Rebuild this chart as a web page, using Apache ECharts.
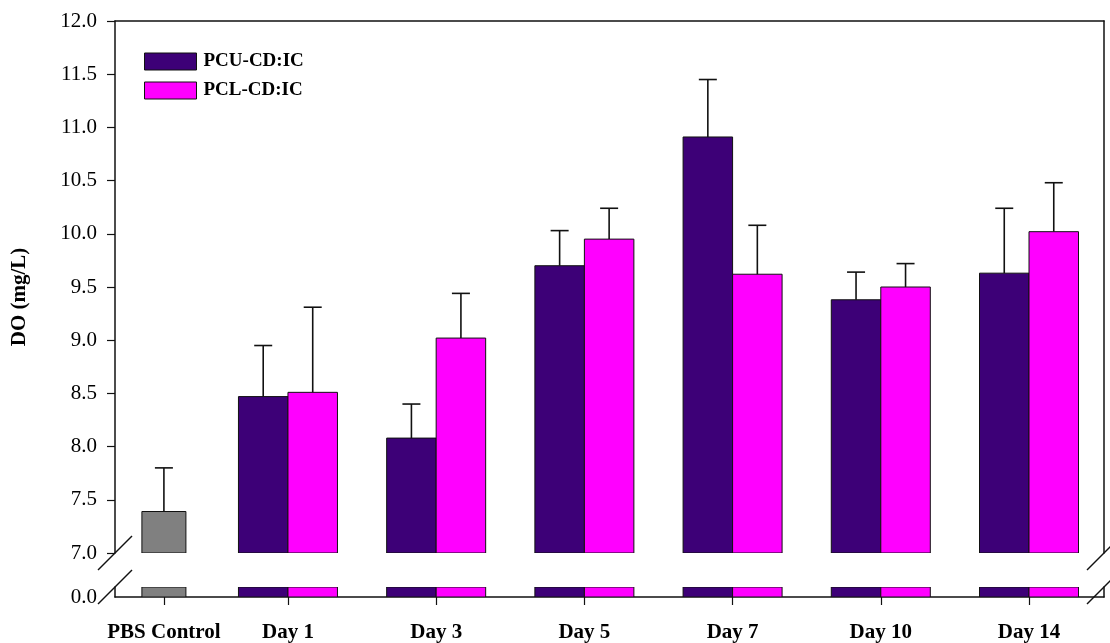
<!DOCTYPE html>
<html>
<head>
<meta charset="utf-8">
<script src="https://cdn.jsdelivr.net/npm/echarts@6/dist/echarts.min.js"></script>
<style>html,body{margin:0;padding:0;background:#fff}#c{width:1110px;height:643px}</style>
</head>
<body>
<div id="c"></div>
<script>
// ---- data ----
const categories = ['PBS Control', 'Day 1', 'Day 3', 'Day 5', 'Day 7', 'Day 10', 'Day 14'];
const pcuValues = [8.47, 8.08, 9.70, 10.91, 9.38, 9.63];
const pcuErrors = [0.48, 0.32, 0.33, 0.54, 0.26, 0.61];
const pclValues = [8.51, 9.02, 9.95, 9.62, 9.50, 10.02];
const pclErrors = [0.80, 0.42, 0.29, 0.46, 0.22, 0.46];
const pbsValues = [7.39];
const pbsErrors = [0.41];
const yTickLabels = ['7.0', '7.5', '8.0', '8.5', '9.0', '9.5', '10.0', '10.5', '11.0', '11.5', '12.0'];

// ---- layout ----
const X_MIN = -0.167, X_MAX = 6.506;
const PBS_POS = 0.163;
const BAR_W = 0.334, PBS_W = 0.297;
const TOP_MIN = 7, TOP_MAX = 12, BOT_MIN = 0, BOT_MAX = 1;
const FONT = "'Liberation Serif','Times New Roman',serif";
const COLORS = { pcu: '#3d0077', pcl: '#ff00ff', pbs: '#808080' };

const tickPositions = categories.map((c, i) => i === 0 ? PBS_POS : i);

function labelFor(v) {
  let best = 0, d = Infinity;
  tickPositions.forEach((p, i) => { const dd = Math.abs(p - v); if (dd < d) { d = dd; best = i; } });
  return d < 1e-6 ? categories[best] : '';
}

function makeRender(widthUnits, color, base, clampMax, withErr) {
  return function (params, api) {
    const x = api.value(0), v = api.value(1), e = api.value(2);
    const top = api.coord([x, Math.min(v, clampMax)]);
    const bot = api.coord([x, base]);
    const bw = api.size([widthUnits, 0])[0];
    const children = [{
      type: 'rect',
      shape: { x: top[0] - bw / 2, y: top[1], width: bw, height: bot[1] - top[1] },
      style: { fill: color, stroke: '#111', lineWidth: 1 }
    }];
    if (withErr) {
      const et = api.coord([x, v + e]);
      children.push({ type: 'line', shape: { x1: top[0], y1: top[1], x2: top[0], y2: et[1] }, style: { stroke: '#111', lineWidth: 1.6 } });
      children.push({ type: 'line', shape: { x1: top[0] - 9, y1: et[1], x2: top[0] + 9, y2: et[1] }, style: { stroke: '#111', lineWidth: 1.6 } });
    }
    return { type: 'group', children };
  };
}

const pcuData = pcuValues.map((v, i) => [i + 1 - BAR_W / 2, v, pcuErrors[i]]);
const pclData = pclValues.map((v, i) => [i + 1 + BAR_W / 2, v, pclErrors[i]]);
const pbsData = pbsValues.map((v, i) => [PBS_POS, v, pbsErrors[i]]);

function seriesPair(name, data, w, color) {
  return [
    { name, type: 'custom', xAxisIndex: 0, yAxisIndex: 0, data, itemStyle: { color },
      renderItem: makeRender(w, color, TOP_MIN, TOP_MAX, true), clip: true, encode: { x: 0, y: 1 } },
    { name, type: 'custom', xAxisIndex: 1, yAxisIndex: 2, data, itemStyle: { color },
      renderItem: makeRender(w, color, BOT_MIN, BOT_MAX, false), clip: true, encode: { x: 0, y: 1 } }
  ];
}

const axisLineStyle = { show: true, onZero: false, lineStyle: { color: '#111', width: 1.5 } };
const chart = echarts.init(document.getElementById('c'), null, { renderer: 'canvas' });

const option = {
  animation: false,
  backgroundColor: '#fff',
  grid: [
    { left: 115, right: 6, top: 21, height: 532 },
    { left: 115, right: 6, top: 587, height: 12 }
  ],
  legend: {
    left: 139, top: 47, orient: 'vertical', itemWidth: 52, itemHeight: 17, itemGap: 10,
    icon: 'rect',
    textStyle: { fontFamily: FONT, fontWeight: 'bold', fontSize: 19, color: '#000', padding: [0, 0, 0, 2] },
    data: [
      { name: 'PCU-CD:IC', itemStyle: { color: COLORS.pcu, borderColor: '#111', borderWidth: 1 } },
      { name: 'PCL-CD:IC', itemStyle: { color: COLORS.pcl, borderColor: '#111', borderWidth: 1 } }
    ]
  },
  xAxis: [
    { type: 'value', gridIndex: 0, min: X_MIN, max: X_MAX, position: 'top',
      axisLine: axisLineStyle, axisTick: { show: false }, axisLabel: { show: false }, splitLine: { show: false } },
    { type: 'value', gridIndex: 1, min: X_MIN, max: X_MAX, position: 'bottom',
      axisLine: axisLineStyle,
      axisTick: { show: true, customValues: tickPositions, length: 8, lineStyle: { color: '#111', width: 1.2 } },
      axisLabel: { show: true, customValues: tickPositions, formatter: labelFor, margin: 25,
        fontFamily: FONT, fontWeight: 'bold', fontSize: 21, color: '#000' },
      splitLine: { show: false } }
  ],
  yAxis: [
    { type: 'value', gridIndex: 0, min: TOP_MIN, max: TOP_MAX, interval: 0.5, position: 'left',
      axisLine: axisLineStyle, axisTick: { show: true, length: 8, lineStyle: { color: '#111', width: 1.2 } },
      axisLabel: { margin: 18, fontFamily: FONT, fontSize: 21, color: '#000',
        formatter: v => yTickLabels[Math.round((v - TOP_MIN) / 0.5)] || '' },
      splitLine: { show: false } },
    { type: 'value', gridIndex: 0, min: TOP_MIN, max: TOP_MAX, position: 'right',
      axisLine: axisLineStyle, axisTick: { show: false }, axisLabel: { show: false }, splitLine: { show: false } },
    { type: 'value', gridIndex: 1, min: BOT_MIN, max: BOT_MAX, interval: 1, position: 'left',
      axisLine: axisLineStyle, axisTick: { show: false },
      axisLabel: { margin: 18, fontFamily: FONT, fontSize: 21, color: '#000', formatter: v => v === 0 ? '0.0' : '' },
      splitLine: { show: false } },
    { type: 'value', gridIndex: 1, min: BOT_MIN, max: BOT_MAX, position: 'right',
      axisLine: axisLineStyle, axisTick: { show: false }, axisLabel: { show: false }, splitLine: { show: false } }
  ],
  series: [].concat(
    seriesPair('PBS Control', pbsData, PBS_W, COLORS.pbs),
    seriesPair('PCU-CD:IC', pcuData, BAR_W, COLORS.pcu),
    seriesPair('PCL-CD:IC', pclData, BAR_W, COLORS.pcl)
  )
};
chart.setOption(option);

// axis break marks and y title, positioned from the axes
const tl = chart.convertToPixel({ gridIndex: 0 }, [X_MIN, TOP_MIN]);
const tr = chart.convertToPixel({ gridIndex: 0 }, [X_MAX, TOP_MIN]);
const bl = chart.convertToPixel({ gridIndex: 1 }, [X_MIN, BOT_MAX]);
const br = chart.convertToPixel({ gridIndex: 1 }, [X_MAX, BOT_MAX]);
const topPx = chart.convertToPixel({ gridIndex: 0 }, [X_MIN, TOP_MAX]);
const botPx = chart.convertToPixel({ gridIndex: 1 }, [X_MIN, BOT_MIN]);
function slash(p) {
  return { type: 'line', shape: { x1: p[0] - 17, y1: p[1] + 17, x2: p[0] + 17, y2: p[1] - 17 },
    style: { stroke: '#111', lineWidth: 1.5 }, z: 100 };
}
chart.setOption({
  graphic: [
    slash(tl), slash(bl), slash(tr), slash(br),
    { type: 'text', x: 20, y: (topPx[1] + botPx[1]) / 2 - 12, rotation: Math.PI / 2,
      style: { text: 'DO (mg/L)', font: "bold 21px 'Liberation Serif', serif", fill: '#000',
        textAlign: 'center', textVerticalAlign: 'middle' } }
  ]
});
</script>
</body>
</html>
